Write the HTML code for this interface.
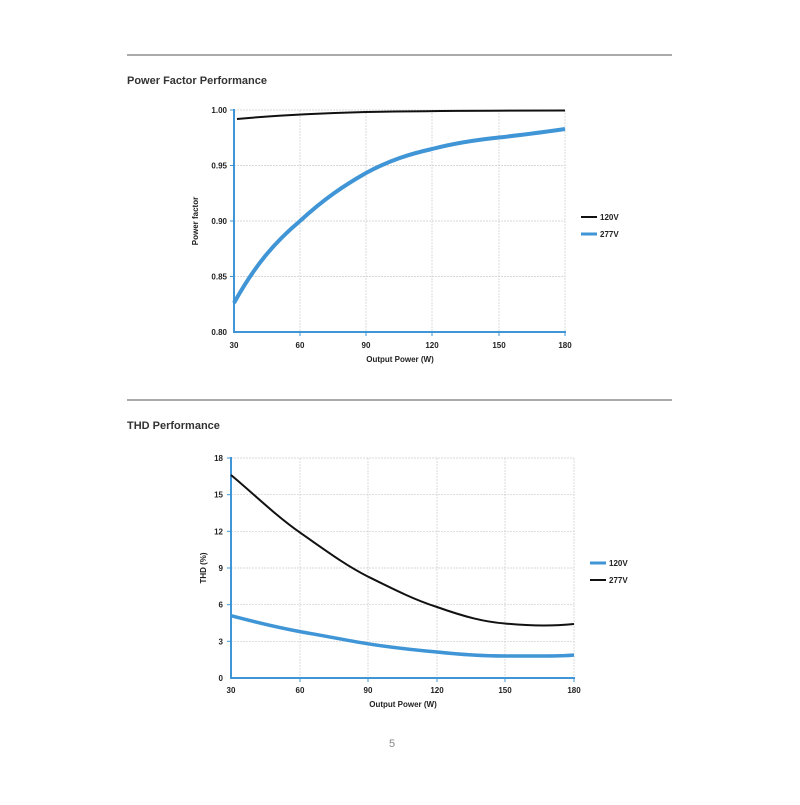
<!DOCTYPE html>
<html><head><style>
body{margin:0;background:#fff;width:800px;height:800px;overflow:hidden;font-family:"Liberation Sans",sans-serif}
text{font-family:"Liberation Sans",sans-serif}
</style></head><body>
<svg width="800" height="800" xmlns="http://www.w3.org/2000/svg">
<line x1="127" y1="55" x2="672" y2="55" stroke="#555" stroke-width="1"/>
<line x1="127" y1="400" x2="672" y2="400" stroke="#555" stroke-width="1"/>
<text x="127" y="84" font-size="11" font-weight="bold" fill="#333">Power Factor Performance</text>
<text x="127" y="429" font-size="11" font-weight="bold" fill="#333">THD Performance</text>
<text x="392" y="747" font-size="11" fill="#888" text-anchor="middle">5</text>

<!-- chart 1 -->
<g stroke="#ccc" stroke-width="0.7" stroke-dasharray="2,1">
<line x1="300" y1="110" x2="300" y2="332"/><line x1="366" y1="110" x2="366" y2="332"/><line x1="432" y1="110" x2="432" y2="332"/><line x1="499" y1="110" x2="499" y2="332"/><line x1="565" y1="110" x2="565" y2="332"/>
<line x1="234" y1="110" x2="565" y2="110"/><line x1="234" y1="165.5" x2="565" y2="165.5"/><line x1="234" y1="221" x2="565" y2="221"/><line x1="234" y1="276.5" x2="565" y2="276.5"/>
</g>
<g stroke="#3f95d5" stroke-width="2">
<line x1="234" y1="109" x2="234" y2="332"/><line x1="233" y1="332" x2="566" y2="332"/>
</g>
<g stroke="#3f95d5" stroke-width="1">
<line x1="230" y1="110" x2="234" y2="110"/><line x1="230" y1="165.5" x2="234" y2="165.5"/><line x1="230" y1="221" x2="234" y2="221"/><line x1="230" y1="276.5" x2="234" y2="276.5"/>
<line x1="300" y1="332" x2="300" y2="336"/><line x1="366" y1="332" x2="366" y2="336"/><line x1="432" y1="332" x2="432" y2="336"/><line x1="499" y1="332" x2="499" y2="336"/><line x1="565" y1="332" x2="565" y2="336"/>
</g>
<g font-size="8" font-weight="bold" fill="#222" text-anchor="end">
<text x="227" y="113">1.00</text><text x="227" y="168.5">0.95</text><text x="227" y="224">0.90</text><text x="227" y="279.5">0.85</text><text x="227" y="335">0.80</text>
</g>
<g font-size="8" font-weight="bold" fill="#222" text-anchor="middle">
<text x="234" y="348">30</text><text x="300" y="348">60</text><text x="366" y="348">90</text><text x="432" y="348">120</text><text x="499" y="348">150</text><text x="565" y="348">180</text>
<text x="400" y="362">Output Power (W)</text>
<text transform="translate(198,221) rotate(-90)">Power factor</text>
</g>
<path d="M237,119 C280,115 330,113 366,112 C420,111 480,110.5 565,110.5" fill="none" stroke="#111" stroke-width="2"/>
<path d="M234,303 C255,265 275,242 300,221 C325,198 345,185 366,173 C390,160 410,154 432,149 C455,143 475,140 499,137.5 C525,134.5 545,132 565,129" fill="none" stroke="#3f95d5" stroke-width="4"/>
<line x1="581" y1="217" x2="597" y2="217" stroke="#111" stroke-width="2"/>
<line x1="581" y1="234" x2="597" y2="234" stroke="#3f95d5" stroke-width="3"/>
<g font-size="8" font-weight="bold" fill="#222"><text x="600" y="220">120V</text><text x="600" y="237">277V</text></g>

<!-- chart 2 -->
<g stroke="#ccc" stroke-width="0.7" stroke-dasharray="2,1">
<line x1="300" y1="458" x2="300" y2="678"/><line x1="368" y1="458" x2="368" y2="678"/><line x1="437" y1="458" x2="437" y2="678"/><line x1="505" y1="458" x2="505" y2="678"/><line x1="574" y1="458" x2="574" y2="678"/>
<line x1="231" y1="458" x2="574" y2="458"/><line x1="231" y1="494.7" x2="574" y2="494.7"/><line x1="231" y1="531.3" x2="574" y2="531.3"/><line x1="231" y1="568" x2="574" y2="568"/><line x1="231" y1="604.7" x2="574" y2="604.7"/><line x1="231" y1="641.3" x2="574" y2="641.3"/>
</g>
<g stroke="#3f95d5" stroke-width="2">
<line x1="231" y1="457" x2="231" y2="678"/><line x1="230" y1="678" x2="575" y2="678"/>
</g>
<g stroke="#3f95d5" stroke-width="1">
<line x1="227" y1="458" x2="231" y2="458"/><line x1="227" y1="494.7" x2="231" y2="494.7"/><line x1="227" y1="531.3" x2="231" y2="531.3"/><line x1="227" y1="568" x2="231" y2="568"/><line x1="227" y1="604.7" x2="231" y2="604.7"/><line x1="227" y1="641.3" x2="231" y2="641.3"/>
<line x1="300" y1="678" x2="300" y2="682"/><line x1="368" y1="678" x2="368" y2="682"/><line x1="437" y1="678" x2="437" y2="682"/><line x1="505" y1="678" x2="505" y2="682"/><line x1="574" y1="678" x2="574" y2="682"/>
</g>
<g font-size="8" font-weight="bold" fill="#222" text-anchor="end">
<text x="223" y="461">18</text><text x="223" y="497.7">15</text><text x="223" y="534.3">12</text><text x="223" y="571">9</text><text x="223" y="607.7">6</text><text x="223" y="644.3">3</text><text x="223" y="681">0</text>
</g>
<g font-size="8" font-weight="bold" fill="#222" text-anchor="middle">
<text x="231" y="693">30</text><text x="300" y="693">60</text><text x="368" y="693">90</text><text x="437" y="693">120</text><text x="505" y="693">150</text><text x="574" y="693">180</text>
<text x="403" y="707">Output Power (W)</text>
<text transform="translate(206,568) rotate(-90)">THD (%)</text>
</g>
<path d="M231,475 C255,495 275,515 300,532.6 C325,550 345,565 368,576.6 C395,590 415,600 437,607 C465,617 485,622 505,623.5 C530,626 555,626 574,624" fill="none" stroke="#111" stroke-width="2"/>
<path d="M231,615.7 C255,622 275,627 300,631.6 C325,636 345,640 368,643.8 C395,648 415,650 437,652 C465,655 485,656 505,656 L540,656 C555,656 565,656 574,655" fill="none" stroke="#3f95d5" stroke-width="3.5"/>
<line x1="590" y1="563" x2="606" y2="563" stroke="#3f95d5" stroke-width="3"/>
<line x1="590" y1="580" x2="606" y2="580" stroke="#111" stroke-width="2"/>
<g font-size="8" font-weight="bold" fill="#222"><text x="609" y="566">120V</text><text x="609" y="583">277V</text></g>
</svg>
</body></html>
